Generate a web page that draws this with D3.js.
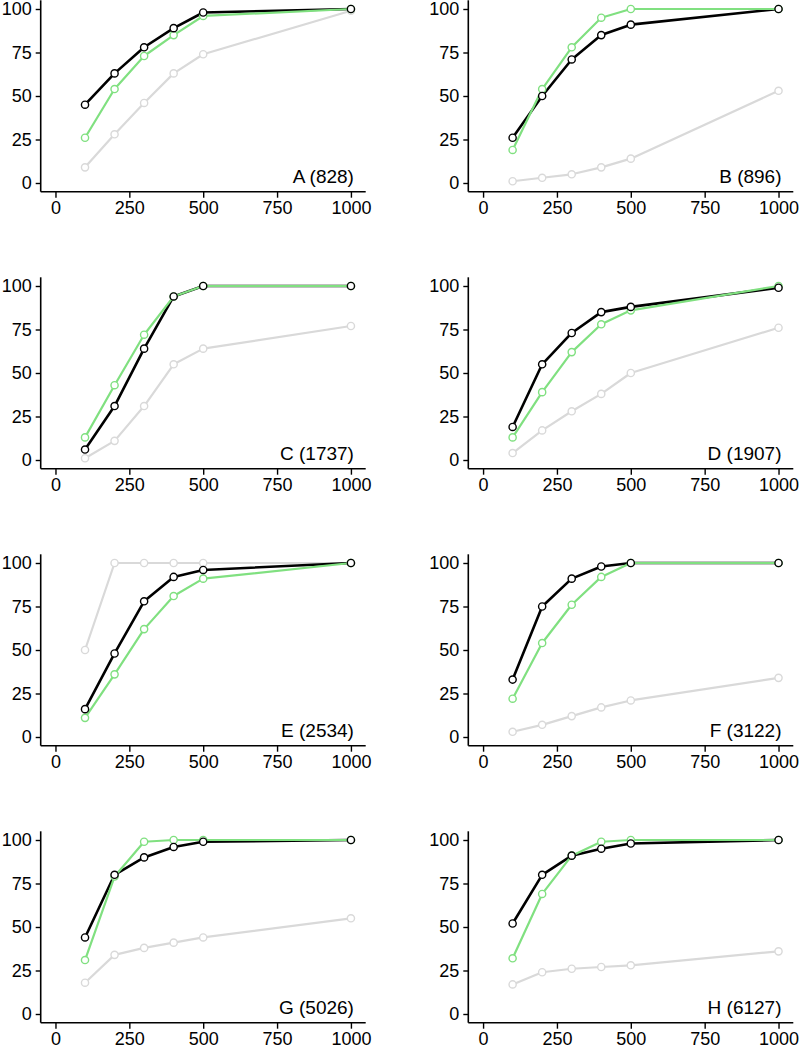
<!DOCTYPE html>
<html><head><meta charset="utf-8">
<script src="https://cdn.jsdelivr.net/npm/d3@7"></script>
<style>
html,body{margin:0;padding:0;background:#fff;}
svg text{font-family:"Liberation Sans",Arial,sans-serif;fill:#000;}
</style></head>
<body><svg id="c" width="799" height="1050"></svg>
<script>
const xValues = [100, 200, 300, 400, 500, 1000];
const xTicks = [0, 250, 500, 750, 1000];
const yTicks = [0, 25, 50, 75, 100];
const panels = ["A (828)", "B (896)", "C (1737)", "D (1907)", "E (2534)", "F (3122)", "G (5026)", "H (6127)"];
const blackSeries = [
  [45, 63, 78, 89, 98, 100],
  [26, 50, 71, 85, 91, 100],
  [6, 31, 64, 94, 100, 100],
  [19, 55, 73, 85, 88, 99],
  [16, 48, 78, 92, 96, 100],
  [33, 75, 91, 98, 100, 100],
  [44, 80, 90, 96, 99, 100],
  [52, 80, 91, 95, 98, 100]
];
const greenSeries = [
  [26, 54, 73, 85, 96, 100],
  [19, 54, 78, 95, 100, 100],
  [13, 43, 72, 94, 100, 100],
  [13, 39, 62, 78, 86, 100],
  [11, 36, 62, 81, 91, 100],
  [22, 54, 76, 92, 100, 100],
  [31, 79, 99, 100, 100, 100],
  [32, 69, 91, 99, 100, 100]
];
const graySeries = [
  [9, 28, 46, 63, 74, 99],
  [1, 3, 5, 9, 14, 53],
  [1, 11, 31, 55, 64, 77],
  [4, 17, 28, 38, 50, 76],
  [50, 100, 100, 100, 100, 100],
  [3, 7, 12, 17, 21, 34],
  [18, 34, 38, 41, 44, 55],
  [17, 24, 26, 27, 28, 36]
];

const svg = d3.select("#c");
const colLeft = [40.7, 468.3];
const rowTop = [0.3, 277.3, 554.3, 831.3];
const pw = 325, ph = 191.4;
const colors = {black: "#000000", green: "#80e080", gray: "#d9d9d9"};

panels.forEach((name, i) => {
  const col = i % 2, row = Math.floor(i / 2);
  const g = svg.append("g").attr("transform", `translate(${colLeft[col]},${rowTop[row]})`);
  const x = d3.scaleLinear().domain([-50, 1050]).range([0, pw]);
  const y = d3.scaleLinear().domain([-5, 105]).range([ph, 0]);

  const xa = g.append("g").attr("transform", `translate(0,${ph})`)
    .call(d3.axisBottom(x).tickValues(xTicks).tickSize(6).tickPadding(4).tickFormat(d3.format("d")));
  const ya = g.append("g")
    .call(d3.axisLeft(y).tickValues(yTicks).tickSize(5).tickPadding(4).tickFormat(d3.format("d")));
  [xa, ya].forEach(a => {
    a.select(".domain").attr("stroke", "#000").attr("stroke-width", 1.6);
    a.selectAll(".tick line").attr("stroke", "#000").attr("stroke-width", 1.4);
    a.selectAll(".tick text").style("font-size", "18px").attr("fill", "#000");
  });
  xa.select(".domain").attr("d", `M0,0H${pw}`);
  ya.select(".domain").attr("d", `M0,0V${ph}`);

  const line = d3.line().x((d, j) => x(xValues[j])).y(d => y(d));
  const series = [
    {v: graySeries[i], c: colors.gray, w: 2.2},
    {v: blackSeries[i], c: colors.black, w: 2.6},
    {v: greenSeries[i], c: colors.green, w: 2.2}
  ];
  series.forEach(s => {
    g.append("path").datum(s.v).attr("d", line).attr("fill", "none")
      .attr("stroke", s.c).attr("stroke-width", s.w).attr("stroke-linejoin", "round");
  });
  [series[0], series[2], series[1]].forEach(s => {
    g.selectAll(null).data(s.v).enter().append("circle")
      .attr("cx", (d, j) => x(xValues[j])).attr("cy", d => y(d)).attr("r", 3.6)
      .attr("fill", "#fff").attr("stroke", s.c).attr("stroke-width", 1.4);
  });

  g.append("text").attr("x", x(1000) + 3).attr("y", y(0))
    .attr("text-anchor", "end").style("font-size", "19px").text(name);
});
</script></body></html>
